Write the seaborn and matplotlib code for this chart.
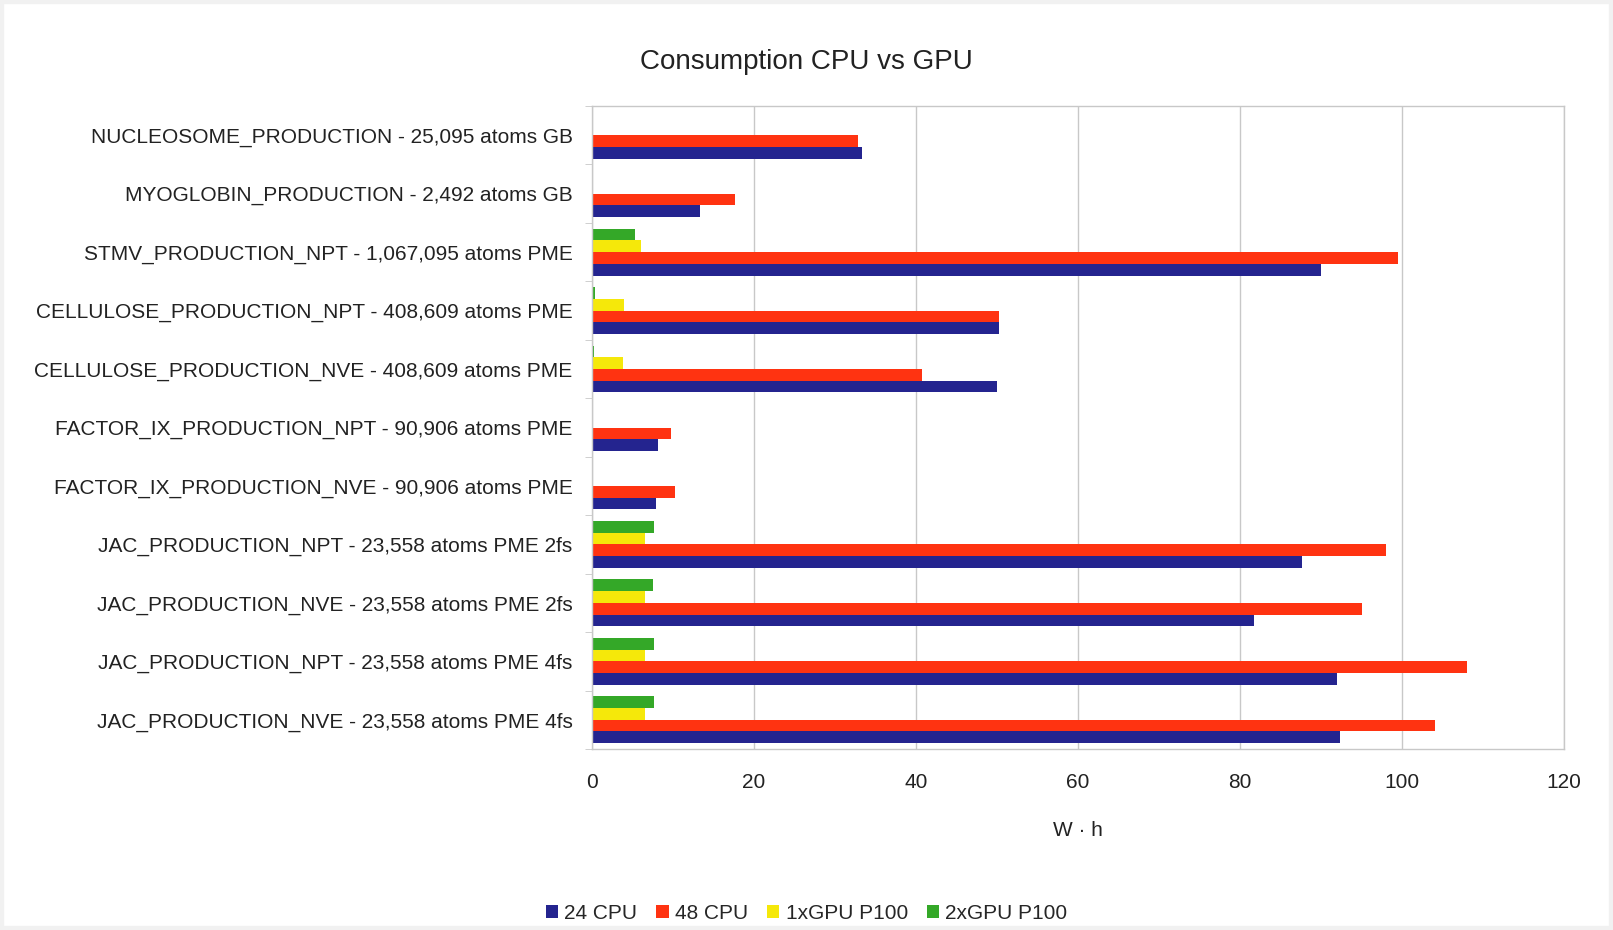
import pandas as pd
import matplotlib.pyplot as plt
import seaborn as sns
from matplotlib.patches import Patch, Rectangle

categories = [
    "NUCLEOSOME_PRODUCTION - 25,095 atoms GB",
    "MYOGLOBIN_PRODUCTION - 2,492 atoms GB",
    "STMV_PRODUCTION_NPT - 1,067,095 atoms PME",
    "CELLULOSE_PRODUCTION_NPT - 408,609 atoms PME",
    "CELLULOSE_PRODUCTION_NVE - 408,609 atoms PME",
    "FACTOR_IX_PRODUCTION_NPT - 90,906 atoms PME",
    "FACTOR_IX_PRODUCTION_NVE - 90,906 atoms PME",
    "JAC_PRODUCTION_NPT - 23,558 atoms PME 2fs",
    "JAC_PRODUCTION_NVE - 23,558 atoms PME 2fs",
    "JAC_PRODUCTION_NPT - 23,558 atoms PME 4fs",
    "JAC_PRODUCTION_NVE - 23,558 atoms PME 4fs",
]

cpu24 = [33.3, 13.3, 90.0, 50.2, 50.0, 8.2, 7.9, 87.7, 81.7, 92.0, 92.4]
cpu48 = [32.8, 17.6, 99.5, 50.2, 40.8, 9.7, 10.2, 98.0, 95.1, 108.0, 104.1]
gpu1 = [0, 0, 6.0, 4.0, 3.8, 0, 0, 6.5, 6.5, 6.5, 6.5]
gpu2 = [0, 0, 5.3, 0.4, 0.3, 0, 0, 7.7, 7.5, 7.6, 7.6]

series = ["24 CPU", "48 CPU", "1xGPU P100", "2xGPU P100"]
colors = {"24 CPU": "#24248f", "48 CPU": "#ff3311",
          "1xGPU P100": "#f5e80a", "2xGPU P100": "#34a828"}

rows = []
for name, vals in zip(series, [cpu24, cpu48, gpu1, gpu2]):
    for cat, v in zip(categories, vals):
        rows.append({"test": cat, "series": name, "wh": v})
df = pd.DataFrame(rows)

sns.set_style("white")
plt.rcParams["font.family"] = ["Liberation Sans", "DejaVu Sans"]

fig = plt.figure(figsize=(16.13, 9.30), dpi=100)
# faint screenshot frame
fig.patches.append(Rectangle((0, 0), 1, 1, transform=fig.transFigure, fill=False,
                             edgecolor="#f1f1f1", linewidth=6, zorder=0))

ax = fig.add_axes([592 / 1613, 1 - 749 / 930, (1564 - 592) / 1613, (749 - 106) / 930])

draw_order = ["2xGPU P100", "1xGPU P100", "48 CPU", "24 CPU"]
sns.barplot(data=df, y="test", x="wh", hue="series", hue_order=draw_order,
            order=categories, palette=colors, orient="h", width=0.8,
            linewidth=0, saturation=1, ax=ax, legend=False)

ax.set_xlim(0, 120)
ax.set_xticks(range(0, 121, 20))
ax.grid(axis="x", color="#c8c8c8", linewidth=1)
ax.set_axisbelow(True)
for s in ax.spines.values():
    s.set_color("#c8c8c8")
    s.set_linewidth(1)

ax.set_yticks([i - 0.5 for i in range(len(categories) + 1)], minor=True)
ax.tick_params(axis="y", which="minor", length=5, color="#c8c8c8", left=True)
ax.tick_params(axis="y", which="major", length=0, labelsize=15, pad=14, labelcolor="#222222")
ax.tick_params(axis="x", length=0, labelsize=15, pad=17, labelcolor="#222222")
ax.set_ylim(len(categories) - 0.5, -0.5)

ax.set_ylabel("")
ax.set_xlabel("W · h", fontsize=15, labelpad=21, color="#222222")
fig.suptitle("Consumption CPU vs GPU", fontsize=20, y=1 - 62 / 930, va="center", color="#222222")

handles = [Patch(facecolor=colors[s], edgecolor="none") for s in series]
fig.legend(handles, series, loc="center", bbox_to_anchor=(0.5, 1 - 913 / 930), ncol=4,
           frameon=False, fontsize=15, handlelength=0.6, handleheight=0.6,
           handletextpad=0.3, columnspacing=0.9)

fig.savefig("out.png", dpi=100, facecolor="white")
